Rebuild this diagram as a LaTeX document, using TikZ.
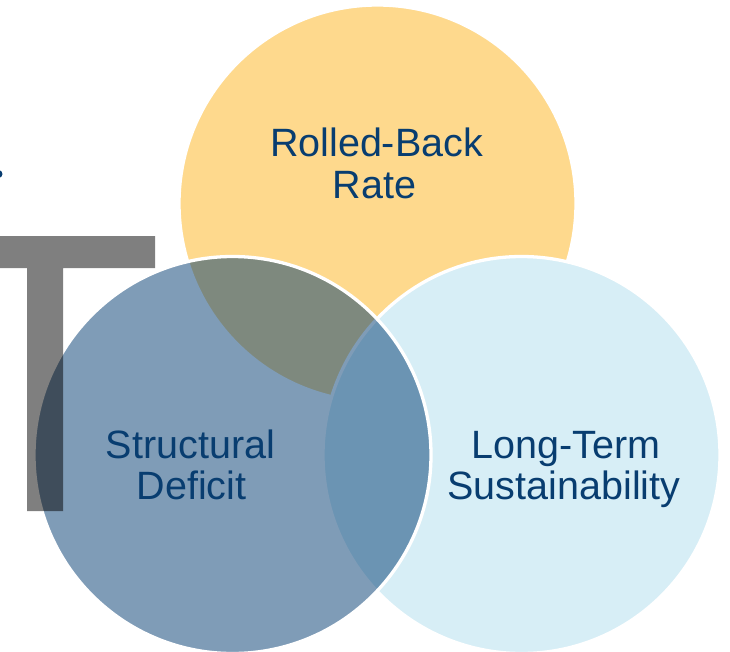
\documentclass[tikz,border=0pt]{standalone}
\usepackage{fontspec}
\setmainfont{Liberation Sans}
\definecolor{vyellow}{RGB}{254,217,141}
\definecolor{vlblue}{RGB}{215,238,246}
\definecolor{vnavy}{RGB}{0,59,113}
\definecolor{vtext}{RGB}{8,61,112}
\begin{document}
\begin{tikzpicture}[x=1pt,y=-1pt,
  venn/.style={draw=white,line width=3.3pt},
  lbl/.style={anchor=base,inner sep=0pt,text=vtext,font=\fontsize{39.5}{40}\selectfont}]
\clip (0,0) rectangle (730,651);
\fill[white] (0,0) rectangle (730,651);
% circles
\path[venn,fill=vyellow] (377.5,203.5) circle[radius=198.5];
\path[venn,fill=vlblue] (521.5,455) circle[radius=198.5];
\path[venn,fill=vnavy,fill opacity=0.5] (232.5,455) circle[radius=198.5];
% letter T behind
\fill[black,opacity=0.5] (-10,236) -- (155,236) -- (155,268) -- (63,268) -- (63,511) -- (27,511) -- (27,268) -- (-10,268) -- cycle;
% bullet dot
\fill[vtext] (-1.5,174) circle[radius=4];
% labels
\node[lbl] (rb1) at (376.5,156) {Rolled-Back};
\node[lbl] (rb2) at (374.5,198) {Rate};
\node[lbl] (sd1) at (190.5,458) {Structural};
\node[lbl] (sd2) at (191.5,499) {Deficit};
\node[lbl] (lt1) at (566,458) {Long-Term};
\node[lbl] (lt2) at (564,499) {Sustainability};
\end{tikzpicture}
\end{document}
